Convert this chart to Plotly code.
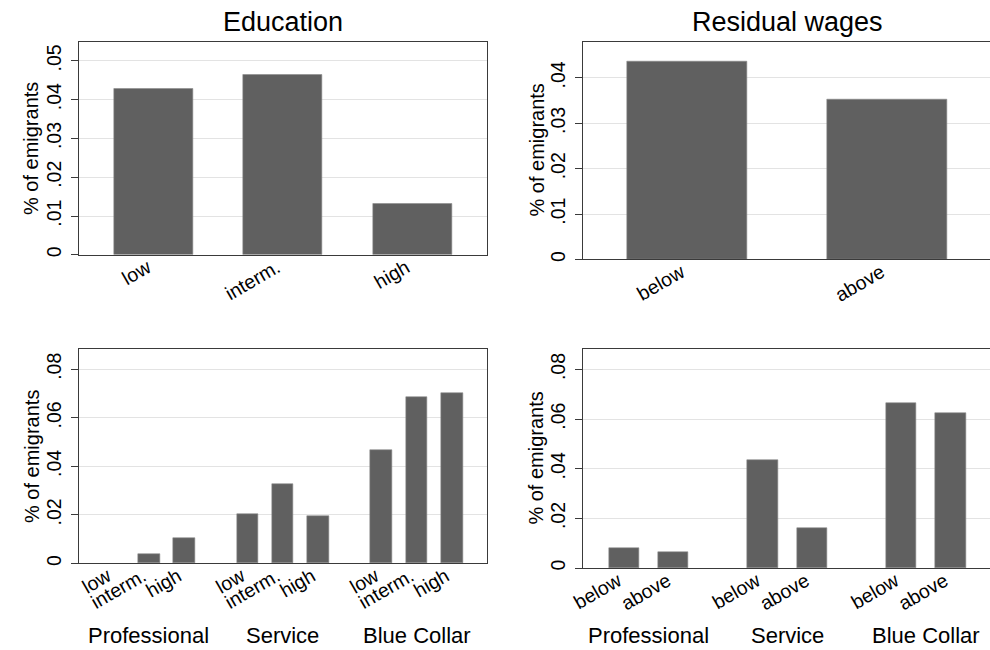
import plotly.graph_objects as go

# ---------------- data ----------------
edu_labels = ["low", "interm.", "high"]
edu_values = [0.0428, 0.0463, 0.01325]

wage_labels = ["below", "above"]
wage_values = [0.0436, 0.0353]

occupations = ["Professional", "Service", "Blue Collar"]
prof_edu = [0.0, 0.0037, 0.0103]
serv_edu = [0.0202, 0.0327, 0.0193]
blue_edu = [0.0466, 0.0684, 0.0703]
prof_wage = [0.0079, 0.0066]
serv_wage = [0.0434, 0.0163]
blue_wage = [0.0665, 0.0624]

yticks_top_left = [0, 0.01, 0.02, 0.03, 0.04, 0.05]
yticks_top_right = [0, 0.01, 0.02, 0.03, 0.04]
yticks_bottom = [0, 0.02, 0.04, 0.06, 0.08]


def fmt(v):
    return "0" if v == 0 else ("%.2f" % v).lstrip("0")


# ---------------- styling ----------------
W, H = 990, 650
FONT = "Liberation Sans, Arial, Helvetica, sans-serif"
BAR = "#606060"
BAR_EDGE = "#8a8a8a"
GRID = "#e3e3e3"
LINE = "#3a3a3a"


def px_x(a, b):
    return [a / W, b / W]


def px_y(top, bottom):
    return [1 - bottom / H, 1 - top / H]


def bar_marker(vals):
    # no outline on zero-height bars (they are invisible in the reference)
    return dict(color=BAR, line=dict(color=BAR_EDGE, width=[0.6 if v > 0 else 0 for v in vals]))


fig = go.Figure()

# ---- panel 1: Education ----
fig.add_trace(go.Bar(x=list(range(len(edu_labels))), y=edu_values, width=0.61,
                     marker=bar_marker(edu_values),
                     xaxis="x", yaxis="y", showlegend=False))

# ---- panel 2: Residual wages ----
fig.add_trace(go.Bar(x=list(range(len(wage_labels))), y=wage_values, width=0.602,
                     marker=bar_marker(wage_values),
                     xaxis="x2", yaxis="y2", showlegend=False))

# ---- panel 3: education by occupation ----
gap3 = 3.8
occ_edu = [prof_edu, serv_edu, blue_edu]
x3, y3, t3 = [], [], []
for g, vals in enumerate(occ_edu):
    for i, v in enumerate(vals):
        x3.append(g * gap3 + i)
        y3.append(v)
        t3.append(edu_labels[i])
fig.add_trace(go.Bar(x=x3, y=y3, width=0.616,
                     marker=bar_marker(y3),
                     xaxis="x3", yaxis="y3", showlegend=False))

# ---- panel 4: wages by occupation ----
gap4 = 2.81
occ_wage = [prof_wage, serv_wage, blue_wage]
x4, y4, t4 = [], [], []
for g, vals in enumerate(occ_wage):
    for i, v in enumerate(vals):
        x4.append(g * gap4 + i)
        y4.append(v)
        t4.append(wage_labels[i])
fig.add_trace(go.Bar(x=x4, y=y4, width=0.614,
                     marker=bar_marker(y4),
                     xaxis="x4", yaxis="y4", showlegend=False))

tickfont = dict(family=FONT, size=19.5, color="black")


def xax(domain, rng, tv, tt, anchor, mirror):
    return dict(domain=domain, range=rng, tickvals=tv, ticktext=tt, tickangle=-30,
                tickfont=tickfont, ticks="", showgrid=False, zeroline=False,
                ticklabelshift=-6, ticklabelstandoff=-7,
                showline=True, linecolor=LINE, linewidth=1.2, mirror=mirror,
                anchor=anchor, fixedrange=True)


def yax(domain, rng, tv, anchor, mirror):
    return dict(domain=domain, range=rng, tickvals=tv, ticktext=[fmt(v) for v in tv],
                tickangle=-90, tickfont=tickfont, ticks="outside", ticklen=7,
                tickcolor=LINE, tickwidth=1.2, ticklabelstandoff=2,
                showgrid=True, gridcolor=GRID, gridwidth=1.2, zeroline=False,
                showline=True, linecolor=LINE, linewidth=1.2, mirror=mirror,
                anchor=anchor, fixedrange=True)


L_DOM = px_x(67, 480)
R_DOM = [577.7 / W, 1.0]

fig.update_layout(
    width=W, height=H,
    margin=dict(l=0, r=0, t=0, b=0),
    paper_bgcolor="white", plot_bgcolor="white",
    font=dict(family=FONT, color="black"),
    bargap=0,
    xaxis=xax(L_DOM, [-0.575, 2.575], list(range(3)), edu_labels, "y", True),
    yaxis=yax(px_y(42, 256), [0, 0.0549], yticks_top_left, "x", True),
    xaxis2=xax(R_DOM, [-0.521, 1.513], list(range(2)), wage_labels, "y2", True),
    yaxis2=yax(px_y(41.7, 260.7), [0, 0.048], yticks_top_right, "x2", False),
    xaxis3=xax(L_DOM, [-0.98, 10.59], x3, t3, "y3", True),
    yaxis3=yax(px_y(350.7, 566), [0, 0.0883], yticks_bottom, "x3", True),
    xaxis4=xax(R_DOM, [-0.83, 7.416], x4, t4, "y4", True),
    yaxis4=yax(px_y(350.7, 570.7), [0, 0.0882], yticks_bottom, "x4", False),
)

ann = []
# panel titles
ann.append(dict(text="Education", x=273.5 / W, y=1 - 22 / H, xref="paper", yref="paper",
                xanchor="center", yanchor="middle", showarrow=False,
                font=dict(family=FONT, size=27, color="black")))
ann.append(dict(text="Residual wages", x=784.5 / W, y=1 - 22 / H, xref="paper", yref="paper",
                xanchor="center", yanchor="middle", showarrow=False,
                font=dict(family=FONT, size=27, color="black")))
# y-axis titles
for xp, (t, b) in [(19, (42, 256)), (530, (41.7, 260.7)), (19, (350.7, 566)), (530, (350.7, 570.7))]:
    ann.append(dict(text="% of emigrants", x=xp / W, y=1 - (t + b) / 2 / H,
                    xref="paper", yref="paper", xanchor="center", yanchor="middle",
                    textangle=-90, showarrow=False,
                    font=dict(family=FONT, size=20, color="black")))
# group labels (occupation)
for g, occ in enumerate(occupations):
    ann.append(dict(text=occ, x=g * gap3 + 1, y=1 - 638 / H, xref="x3", yref="paper",
                    xanchor="center", yanchor="middle", showarrow=False,
                    font=dict(family=FONT, size=22, color="black")))
    ann.append(dict(text=occ, x=g * gap4 + 0.5, y=1 - 638 / H, xref="x4", yref="paper",
                    xanchor="center", yanchor="middle", showarrow=False,
                    font=dict(family=FONT, size=22, color="black")))
fig.update_layout(annotations=ann)

fig.write_html("out.html", config={"displayModeBar": False},
               post_script="document.body.style.margin='0';document.body.style.overflow='hidden';")
